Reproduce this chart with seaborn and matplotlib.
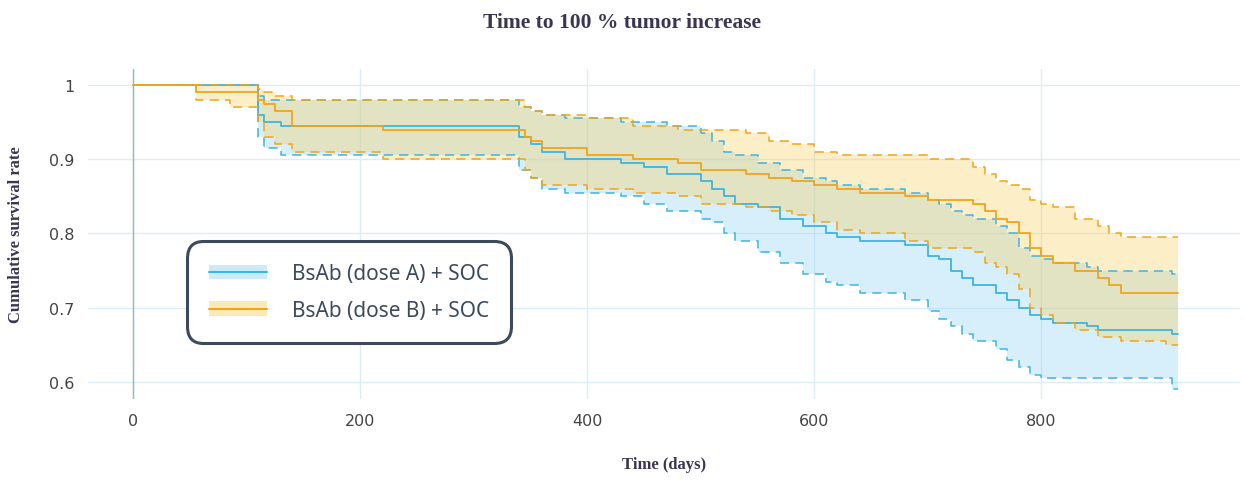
import matplotlib.pyplot as plt
import numpy as np
import seaborn as sns
from matplotlib.patches import Patch
from matplotlib.lines import Line2D
from matplotlib.legend_handler import HandlerTuple

sns.set_theme(style="white")

# dose A: survival estimate and confidence band (step times in days)
a_t = [0, 110, 115, 130, 340, 350, 360, 380, 430, 450, 470, 500, 510, 520, 530, 550, 570, 590,
       610, 620, 640, 680, 700, 710, 720, 730, 740, 760, 770, 780, 790, 800, 810, 840, 850, 915, 920]
a_s = [1.0, 0.96, 0.95, 0.945, 0.93, 0.92, 0.91, 0.90, 0.895, 0.89, 0.88, 0.87, 0.86, 0.85, 0.84,
       0.835, 0.82, 0.81, 0.80, 0.795, 0.79, 0.785, 0.77, 0.765, 0.75, 0.74, 0.73, 0.72, 0.71, 0.70,
       0.69, 0.685, 0.68, 0.675, 0.67, 0.665, 0.665]
a_lo = [1.0, 0.93, 0.915, 0.905, 0.885, 0.875, 0.86, 0.855, 0.85, 0.84, 0.83, 0.82, 0.815, 0.80,
        0.79, 0.775, 0.76, 0.745, 0.735, 0.73, 0.72, 0.71, 0.695, 0.685, 0.675, 0.665, 0.655, 0.645,
        0.63, 0.62, 0.61, 0.605, 0.605, 0.605, 0.605, 0.59, 0.59]
a_hi = [1.0, 0.985, 0.98, 0.98, 0.97, 0.965, 0.96, 0.955, 0.95, 0.95, 0.945, 0.935, 0.925, 0.91,
        0.905, 0.895, 0.885, 0.875, 0.87, 0.865, 0.86, 0.855, 0.845, 0.84, 0.83, 0.825, 0.82, 0.81,
        0.80, 0.78, 0.77, 0.765, 0.76, 0.755, 0.75, 0.745, 0.745]

# dose B
b_t = [0, 55, 85, 110, 115, 125, 140, 220, 345, 350, 360, 400, 440, 480, 500, 540, 560, 580, 600,
       620, 640, 680, 700, 740, 750, 760, 770, 780, 790, 800, 810, 830, 850, 860, 870, 910, 920]
b_s = [1.0, 0.99, 0.99, 0.98, 0.975, 0.965, 0.945, 0.94, 0.93, 0.925, 0.915, 0.905, 0.90, 0.895,
       0.885, 0.88, 0.875, 0.87, 0.865, 0.86, 0.855, 0.85, 0.845, 0.84, 0.83, 0.82, 0.815, 0.80,
       0.78, 0.77, 0.76, 0.75, 0.74, 0.73, 0.72, 0.72, 0.72]
b_lo = [1.0, 0.98, 0.97, 0.95, 0.93, 0.92, 0.91, 0.90, 0.885, 0.875, 0.865, 0.86, 0.855, 0.85,
        0.84, 0.835, 0.83, 0.825, 0.815, 0.805, 0.80, 0.79, 0.78, 0.775, 0.76, 0.755, 0.745, 0.725,
        0.70, 0.69, 0.68, 0.67, 0.66, 0.66, 0.655, 0.65, 0.65]
b_hi = [1.0, 1.0, 1.0, 0.995, 0.99, 0.985, 0.98, 0.98, 0.97, 0.965, 0.96, 0.955, 0.945, 0.94,
        0.94, 0.935, 0.925, 0.92, 0.91, 0.905, 0.905, 0.905, 0.90, 0.89, 0.88, 0.87, 0.865, 0.86,
        0.845, 0.84, 0.835, 0.82, 0.81, 0.80, 0.795, 0.795, 0.795]

groups = [
    ("BsAb (dose A) + SOC", a_t, a_s, a_lo, a_hi, "#3fb4e0", "#8fd3f2"),
    ("BsAb (dose B) + SOC", b_t, b_s, b_lo, b_hi, "#eea51c", "#f7cf5e"),
]

fig = plt.figure(figsize=(12.44, 4.81), dpi=100, facecolor="white")
ax = fig.add_axes([88 / 1244, 1 - 400 / 481, (1240 - 88) / 1244, 330 / 481])

handles = []
for name, t, s, lo, hi, col, fill in groups:
    ax.fill_between(t, lo, hi, step="post", color=fill, alpha=0.35, linewidth=0)
    ax.step(t, lo, where="post", color=col, lw=1.1, ls=(0, (6, 4)))
    ax.step(t, hi, where="post", color=col, lw=1.1, ls=(0, (6, 4)))
    sns.lineplot(x=t, y=s, ax=ax, color=col, lw=1.3, drawstyle="steps-post", estimator=None)
    handles.append((Patch(facecolor=fill, alpha=0.45, edgecolor="none"), Line2D([], [], color=col, lw=1.5)))

ax.set_xlim(-40, 975)
ax.set_ylim(0.577, 1.0215)
ax.set_xticks([0, 200, 400, 600, 800])
ax.set_yticks([0.6, 0.7, 0.8, 0.9, 1.0])
ax.set_yticklabels(["0.6", "0.7", "0.8", "0.9", "1"])
ax.grid(True, color="#dcedf5", lw=1)
ax.set_axisbelow(True)
for sp in ax.spines.values():
    sp.set_visible(False)
ax.axvline(0, color="#9fb4c4", lw=1, zorder=1)
ax.tick_params(labelsize=11.5, colors="#444444", length=0, pad=10)

ax.set_xlabel("Time (days)", family="Liberation Serif", fontsize=12, weight="bold", color="#3b3552", labelpad=20)
ax.set_ylabel("Cumulative survival rate", family="Liberation Serif", fontsize=12, weight="bold", color="#3b3552", labelpad=18)
fig.suptitle("Time to 100 % tumor increase", x=0.5, y=0.972, family="Liberation Serif",
             fontsize=15.5, weight="bold", color="#3b3552")

leg = ax.legend(handles, [g[0] for g in groups], handler_map={tuple: HandlerTuple(ndivide=1)},
                loc="upper left", bbox_to_anchor=(0.082, 0.49), frameon=True, framealpha=1,
                fancybox=True, edgecolor="#3d4a5c", facecolor="white", labelspacing=0.75,
                handlelength=2.8, handletextpad=1.2, borderpad=0.75,
                prop={"family": "Noto Sans", "size": 15})
leg.get_frame().set_linewidth(2.2)
leg.get_frame().set_boxstyle("round", pad=0.3, rounding_size=0.8)
for txt in leg.get_texts():
    txt.set_color("#3d4a5c")

fig.savefig("out.png", dpi=100)
